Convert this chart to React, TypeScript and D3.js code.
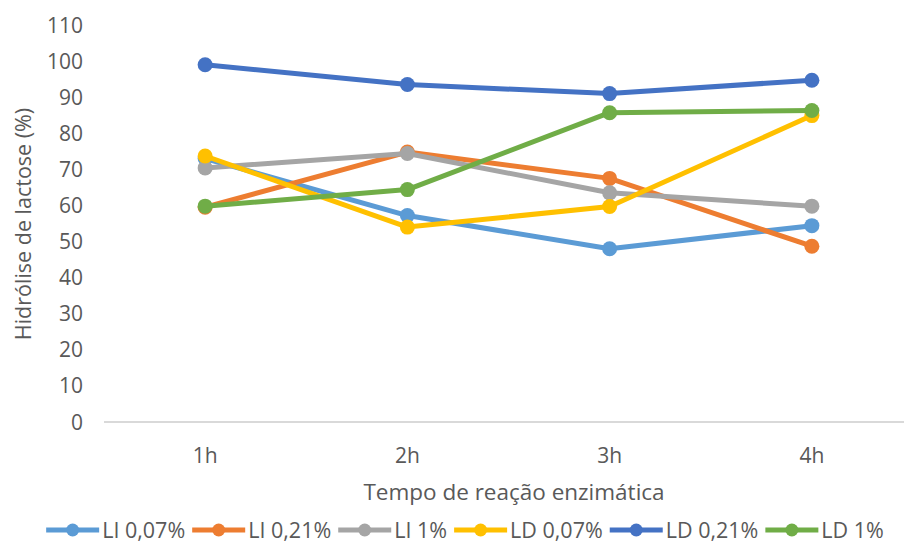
import React, { useEffect, useRef } from 'react';
import * as d3 from 'd3';

const categories = ['1h', '2h', '3h', '4h'];
const seriesNames = ['LI 0,07%', 'LI 0,21%', 'LI 1%', 'LD 0,07%', 'LD 0,21%', 'LD 1%'];
const seriesColors = ['#5B9BD5', '#ED7D31', '#A5A5A5', '#FFC000', '#4472C4', '#70AD47'];

const li007 = [73, 57.2, 48, 54.4];
const li021 = [59.5, 74.8, 67.5, 48.7];
const li1 = [70.4, 74.4, 63.5, 59.8];
const ld007 = [73.7, 54, 59.7, 84.9];
const ld021 = [99, 93.5, 91, 94.7];
const ld1 = [59.8, 64.4, 85.7, 86.3];

const seriesValues = [li007, li021, li1, ld007, ld021, ld1];
const yTicks = [0, 10, 20, 30, 40, 50, 60, 70, 80, 90, 100, 110];

const W = 904;
const H = 544;
const FONT = '"Open Sans", sans-serif';
const TEXT = '#595959';

const App: React.FC = () => {
  const svgRef = useRef<SVGSVGElement>(null);

  useEffect(() => {
    if (!svgRef.current) return;
    const el = svgRef.current;
    d3.select(el).selectAll('*').remove();
    const svg = d3.select(el);

    const plot = { left: 104, right: 913, top: 25, bottom: 422 };

    const x = d3
      .scalePoint<string>()
      .domain(categories)
      .range([plot.left, plot.right])
      .padding(0.5);

    const y = d3.scaleLinear().domain([0, 110]).range([plot.bottom, plot.top]);

    // y tick labels (no axis line, no gridlines)
    svg
      .append('g')
      .selectAll('text')
      .data(yTicks)
      .enter()
      .append('text')
      .attr('x', 83)
      .attr('y', (d) => y(d))
      .attr('dy', '0.36em')
      .attr('text-anchor', 'end')
      .attr('fill', TEXT)
      .attr('font-family', FONT)
      .attr('font-size', 21)
      .text((d) => String(d));

    // baseline
    svg
      .append('line')
      .attr('x1', plot.left)
      .attr('x2', plot.right)
      .attr('y1', y(0))
      .attr('y2', y(0))
      .attr('stroke', '#D9D9D9')
      .attr('stroke-width', 2);

    // category labels
    svg
      .append('g')
      .selectAll('text')
      .data(categories)
      .enter()
      .append('text')
      .attr('x', (d) => x(d) ?? 0)
      .attr('y', 463)
      .attr('text-anchor', 'middle')
      .attr('fill', TEXT)
      .attr('font-family', FONT)
      .attr('font-size', 21)
      .text((d) => d);

    // axis titles
    svg
      .append('text')
      .attr('x', 514)
      .attr('y', 500)
      .attr('text-anchor', 'middle')
      .attr('fill', TEXT)
      .attr('font-family', FONT)
      .attr('font-size', 22.5)
      .text('Tempo de reação enzimática');

    svg
      .append('text')
      .attr('transform', 'translate(31,224) rotate(-90)')
      .attr('text-anchor', 'middle')
      .attr('fill', TEXT)
      .attr('font-family', FONT)
      .attr('font-size', 21.5)
      .text('Hidrólise de lactose (%)');

    // series
    const line = d3
      .line<number>()
      .x((_, i) => x(categories[i]) ?? 0)
      .y((d) => y(d));

    seriesValues.forEach((vals, si) => {
      const g = svg.append('g');
      g.append('path')
        .attr('d', line(vals) ?? '')
        .attr('fill', 'none')
        .attr('stroke', seriesColors[si])
        .attr('stroke-width', 5)
        .attr('stroke-linejoin', 'round');
      g.selectAll('circle')
        .data(vals)
        .enter()
        .append('circle')
        .attr('cx', (_, i) => x(categories[i]) ?? 0)
        .attr('cy', (d) => y(d))
        .attr('r', 7.5)
        .attr('fill', seriesColors[si]);
    });

    // legend
    const legend = svg.append('g');
    const lineW = 53;
    const items = seriesNames.map((name, i) => {
      const item = legend.append('g');
      item
        .append('line')
        .attr('x1', 0)
        .attr('x2', lineW)
        .attr('y1', 0)
        .attr('y2', 0)
        .attr('stroke', seriesColors[i])
        .attr('stroke-width', 5);
      item
        .append('circle')
        .attr('cx', lineW / 2)
        .attr('cy', 0)
        .attr('r', 6.5)
        .attr('fill', seriesColors[i]);
      const t = item
        .append('text')
        .attr('x', lineW + 3)
        .attr('y', 0)
        .attr('dy', '0.36em')
        .attr('fill', TEXT)
        .attr('font-family', FONT)
        .attr('font-size', 21.5)
        .text(name);
      const tw = (t.node() as SVGTextElement).getComputedTextLength();
      return { item, w: lineW + 3 + tw };
    });
    const gap = 7;
    const total = d3.sum(items, (d) => d.w) + gap * (items.length - 1);
    let cx = 465 - total / 2;
    items.forEach((d) => {
      d.item.attr('transform', `translate(${cx},530)`);
      cx += d.w + gap;
    });
  }, []);

  return (
    <svg
      ref={svgRef}
      width={W}
      height={H}
      style={{ position: 'absolute', left: 0, top: 0, background: '#fff' }}
    />
  );
};

export default App;
